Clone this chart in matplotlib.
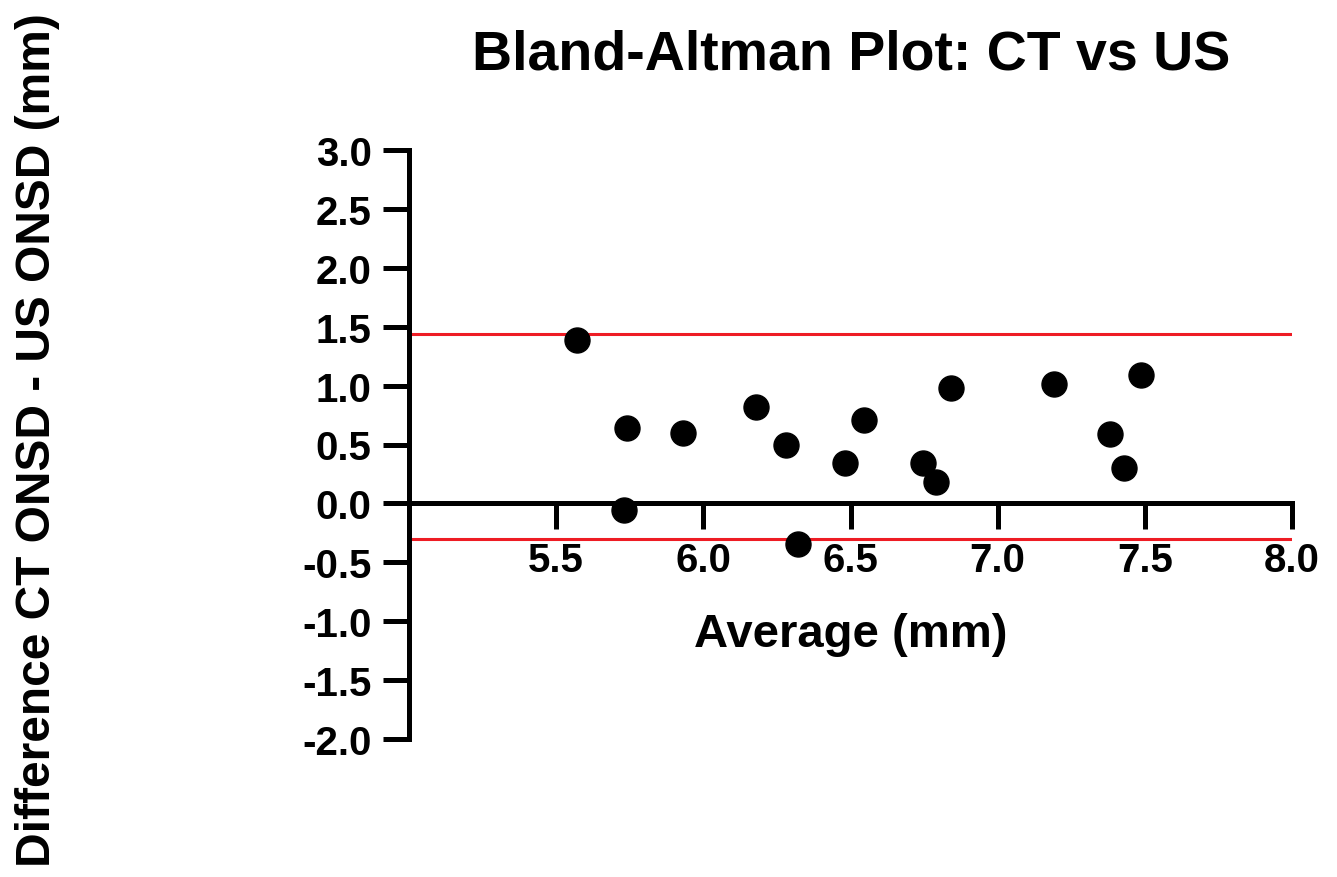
import matplotlib
matplotlib.use('Agg')
import matplotlib.pyplot as plt

plt.rcParams['font.family'] = ['Liberation Sans', 'DejaVu Sans']

# average of the two methods (mm) and difference CT - US (mm)
avg = [5.57, 5.74, 5.93, 5.73, 6.32, 6.18, 6.28, 6.48, 6.545,
       6.746, 6.79, 6.843, 7.19, 7.486, 7.382, 7.43]
diff = [1.39, 0.64, 0.60, -0.06, -0.345, 0.82, 0.50, 0.345, 0.706,
        0.345, 0.18, 0.98, 1.017, 1.087, 0.593, 0.30]

# limits of agreement
loa_upper = 1.44
loa_lower = -0.305

x_ticks = [5.5, 6.0, 6.5, 7.0, 7.5, 8.0]
y_ticks = [3.0, 2.5, 2.0, 1.5, 1.0, 0.5, 0.0, -0.5, -1.0, -1.5, -2.0]

fig = plt.figure(figsize=(13.37, 8.78), dpi=100)
ax = fig.add_axes([409 / 1337, 1 - 740 / 878, 883 / 1337, 589 / 878])

ax.axhline(loa_upper, color='#ee1c24', lw=2.2, zorder=2)
ax.axhline(loa_lower, color='#ee1c24', lw=2.2, zorder=2)

ax.plot(avg, diff, 'o', color='black', markersize=18, zorder=4)

ax.set_xlim(5.0, 8.0)
ax.set_ylim(-2.0, 3.0)

# bottom axis crosses at zero, like the reference
ax.spines['bottom'].set_position(('data', 0))
ax.spines['top'].set_visible(False)
ax.spines['right'].set_visible(False)
ax.spines['left'].set_linewidth(3.6)
ax.spines['bottom'].set_linewidth(3.6)
ax.spines['bottom'].set_zorder(3)

ax.set_xticks(x_ticks)
ax.set_xticklabels([f'{v:.1f}' for v in x_ticks], fontweight='bold')
ax.set_yticks(y_ticks)
ax.set_yticklabels([f'{v:.1f}' for v in y_ticks], fontweight='bold')
ax.tick_params(axis='both', length=19, width=3.6, labelsize=29, pad=8)

ax.set_xlabel('Average (mm)', fontsize=34, fontweight='bold', va='center')
ax.xaxis.set_label_coords(0.5, 0.178)

fig.text(38 / 1337, 0.499, 'Difference CT ONSD - US ONSD (mm)', rotation=90,
         ha='center', va='center', fontsize=34.5, fontweight='bold')
fig.text(851 / 1337, 1 - 55 / 878, 'Bland-Altman Plot: CT vs US',
         ha='center', va='center', fontsize=40, fontweight='bold')

fig.savefig('out.png', dpi=100)
